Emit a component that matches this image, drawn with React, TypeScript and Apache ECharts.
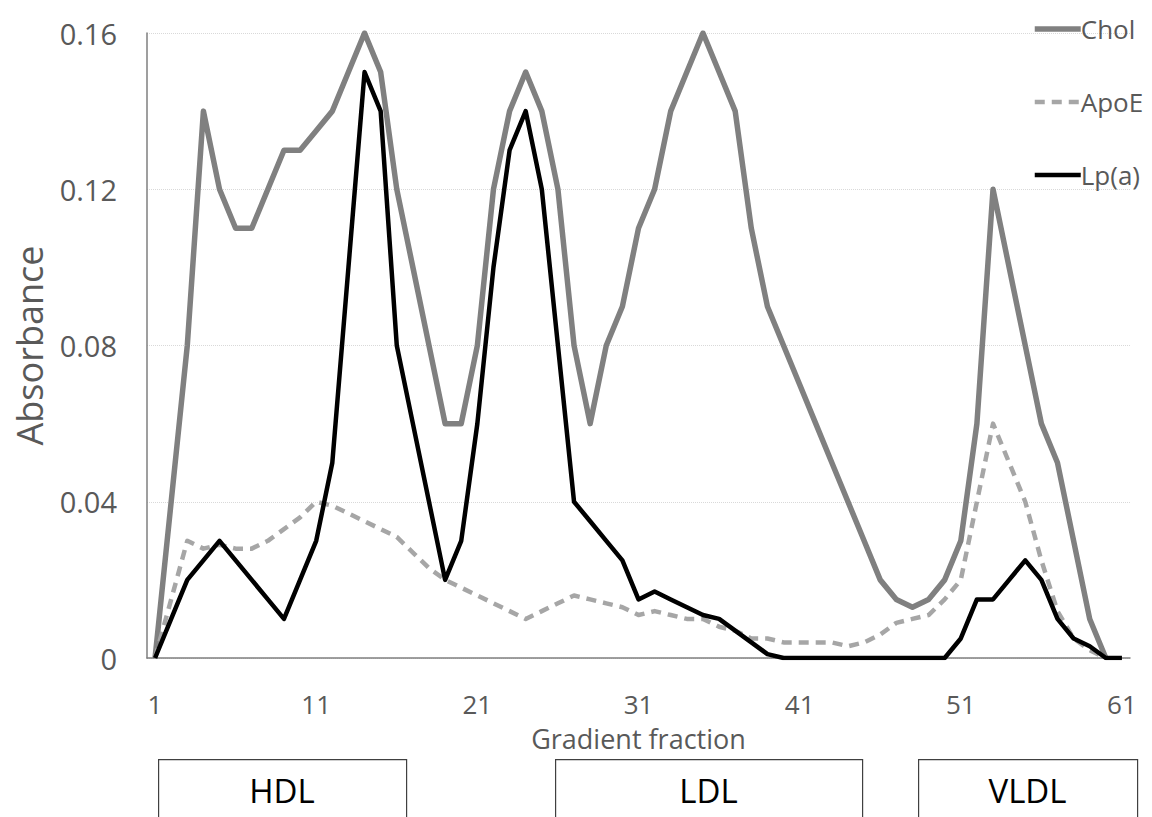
import React, { useEffect, useRef } from "react";
import * as echarts from "echarts";

const fractions = [
  "1","2","3","4","5","6","7","8","9","10",
  "11","12","13","14","15","16","17","18","19","20",
  "21","22","23","24","25","26","27","28","29","30",
  "31","32","33","34","35","36","37","38","39","40",
  "41","42","43","44","45","46","47","48","49","50",
  "51","52","53","54","55","56","57","58","59","60","61",
];

const chol = [
  0, 0.04, 0.08, 0.14, 0.12, 0.11, 0.11, 0.12, 0.13, 0.13,
  0.135, 0.14, 0.15, 0.16, 0.15, 0.12, 0.10, 0.08, 0.06, 0.06,
  0.08, 0.12, 0.14, 0.15, 0.14, 0.12, 0.08, 0.06, 0.08, 0.09,
  0.11, 0.12, 0.14, 0.15, 0.16, 0.15, 0.14, 0.11, 0.09, 0.08,
  0.07, 0.06, 0.05, 0.04, 0.03, 0.02, 0.015, 0.013, 0.015, 0.02,
  0.03, 0.06, 0.12, 0.10, 0.08, 0.06, 0.05, 0.03, 0.01, 0,
];

const apoE = [
  0, 0.015, 0.03, 0.028, 0.029, 0.028, 0.028, 0.03, 0.033, 0.036,
  0.04, 0.039, 0.037, 0.035, 0.033, 0.031, 0.027, 0.023, 0.02, 0.018,
  0.016, 0.014, 0.012, 0.01, 0.012, 0.014, 0.016, 0.015, 0.014, 0.013,
  0.011, 0.012, 0.011, 0.01, 0.01, 0.008, 0.007, 0.005, 0.005, 0.004,
  0.004, 0.004, 0.004, 0.003, 0.004, 0.006, 0.009, 0.01, 0.011, 0.015,
  0.02, 0.04, 0.06, 0.05, 0.04, 0.025, 0.012, 0.005, 0.002, 0,
];

const lpa = [
  0, 0.01, 0.02, 0.025, 0.03, 0.025, 0.02, 0.015, 0.01, 0.02,
  0.03, 0.05, 0.10, 0.15, 0.14, 0.08, 0.06, 0.04, 0.02, 0.03,
  0.06, 0.10, 0.13, 0.14, 0.12, 0.08, 0.04, 0.035, 0.03, 0.025,
  0.015, 0.017, 0.015, 0.013, 0.011, 0.01, 0.007, 0.004, 0.001, 0,
  0, 0, 0, 0, 0, 0, 0, 0, 0, 0,
  0.005, 0.015, 0.015, 0.02, 0.025, 0.02, 0.01, 0.005, 0.003, 0, 0,
];

const yTicks = { min: 0, max: 0.16, interval: 0.04 };

const bands = [
  { label: "HDL", x: 158, w: 248 },
  { label: "LDL", x: 555, w: 307 },
  { label: "VLDL", x: 918, w: 219 },
];

const FONT = "'Open Sans', 'Noto Sans', sans-serif";
const GRAY_TEXT = "#595959";

export default function App() {
  const ref = useRef<HTMLDivElement>(null);

  useEffect(() => {
    document.body.style.margin = "0";
    if (!ref.current) return;
    const chart = echarts.init(ref.current, null, { renderer: "svg" });

    const graphics: any[] = [];
    bands.forEach((b) => {
      graphics.push({
        type: "rect",
        left: b.x,
        top: 759,
        shape: { width: b.w, height: 80 },
        style: { fill: "#fff", stroke: "#404040", lineWidth: 1.2 },
        z: 10,
      });
      graphics.push({
        type: "text",
        x: b.x + b.w / 2,
        y: 790,
        style: {
          text: b.label,
          fill: "#000",
          font: `33px ${FONT}`,
          align: "center",
          verticalAlign: "middle",
        },
        z: 11,
      });
    });

    chart.setOption({
      animation: false,
      backgroundColor: "#fff",
      grid: { left: 147, right: 22, top: 33, bottom: 159, containLabel: false },
      legend: {
        orient: "vertical",
        left: 1027,
        top: 10,
        itemWidth: 46,
        itemHeight: 14,
        itemGap: 45,
        itemStyle: { opacity: 0 },
        textStyle: { fontFamily: FONT, fontSize: 26, color: GRAY_TEXT, lineHeight: 28, padding: [0, 0, 0, -5] },
        data: [
          { name: "Chol", lineStyle: { width: 5.5, color: "#808080" } },
          { name: "ApoE", lineStyle: { width: 4.5, color: "#a6a6a6", type: [10, 7] } },
          { name: "Lp(a)", lineStyle: { width: 4.5, color: "#000000" } },
        ],
      },
      xAxis: {
        type: "category",
        data: fractions,
        boundaryGap: true,
        axisLine: { show: true, lineStyle: { color: "#7f7f7f", width: 1.5 } },
        axisTick: { show: false },
        axisLabel: {
          interval: 9,
          fontFamily: FONT,
          fontSize: 26,
          lineHeight: 26,
          color: GRAY_TEXT,
          margin: 33,
        },
        name: "Gradient fraction",
        nameLocation: "middle",
        nameGap: 67,
        nameTextStyle: { fontFamily: FONT, fontSize: 27, lineHeight: 27, color: GRAY_TEXT },
        splitLine: { show: false },
      },
      yAxis: {
        type: "value",
        min: yTicks.min,
        max: yTicks.max,
        interval: yTicks.interval,
        axisLine: { show: true, lineStyle: { color: "#7f7f7f", width: 1.5 } },
        axisTick: { show: false },
        axisLabel: {
          fontFamily: FONT,
          fontSize: 29,
          color: GRAY_TEXT,
          margin: 30,
          formatter: (v: number) => (v === 0 ? "0" : v.toFixed(2)),
        },
        splitLine: { show: true, lineStyle: { color: "#d9d9d9", type: "dotted", width: 1 } },
        name: "Absorbance",
        nameLocation: "middle",
        nameGap: 100,
        nameTextStyle: { fontFamily: FONT, fontSize: 36, color: GRAY_TEXT },
      },
      series: [
        {
          name: "Chol",
          type: "line",
          data: chol,
          symbol: "none",
          lineStyle: { color: "#808080", width: 5.5, join: "round" },
          itemStyle: { color: "#808080" },
          z: 2,
        },
        {
          name: "ApoE",
          type: "line",
          data: apoE,
          symbol: "none",
          lineStyle: { color: "#a6a6a6", width: 4.5, type: [10, 7], join: "round" },
          itemStyle: { color: "#a6a6a6" },
          z: 3,
        },
        {
          name: "Lp(a)",
          type: "line",
          data: lpa,
          symbol: "none",
          lineStyle: { color: "#000000", width: 4.5, join: "round" },
          itemStyle: { color: "#000000" },
          z: 4,
        },
      ],
      graphic: graphics,
    });

    return () => chart.dispose();
  }, []);

  return <div ref={ref} style={{ width: 1152, height: 817 }} />;
}
